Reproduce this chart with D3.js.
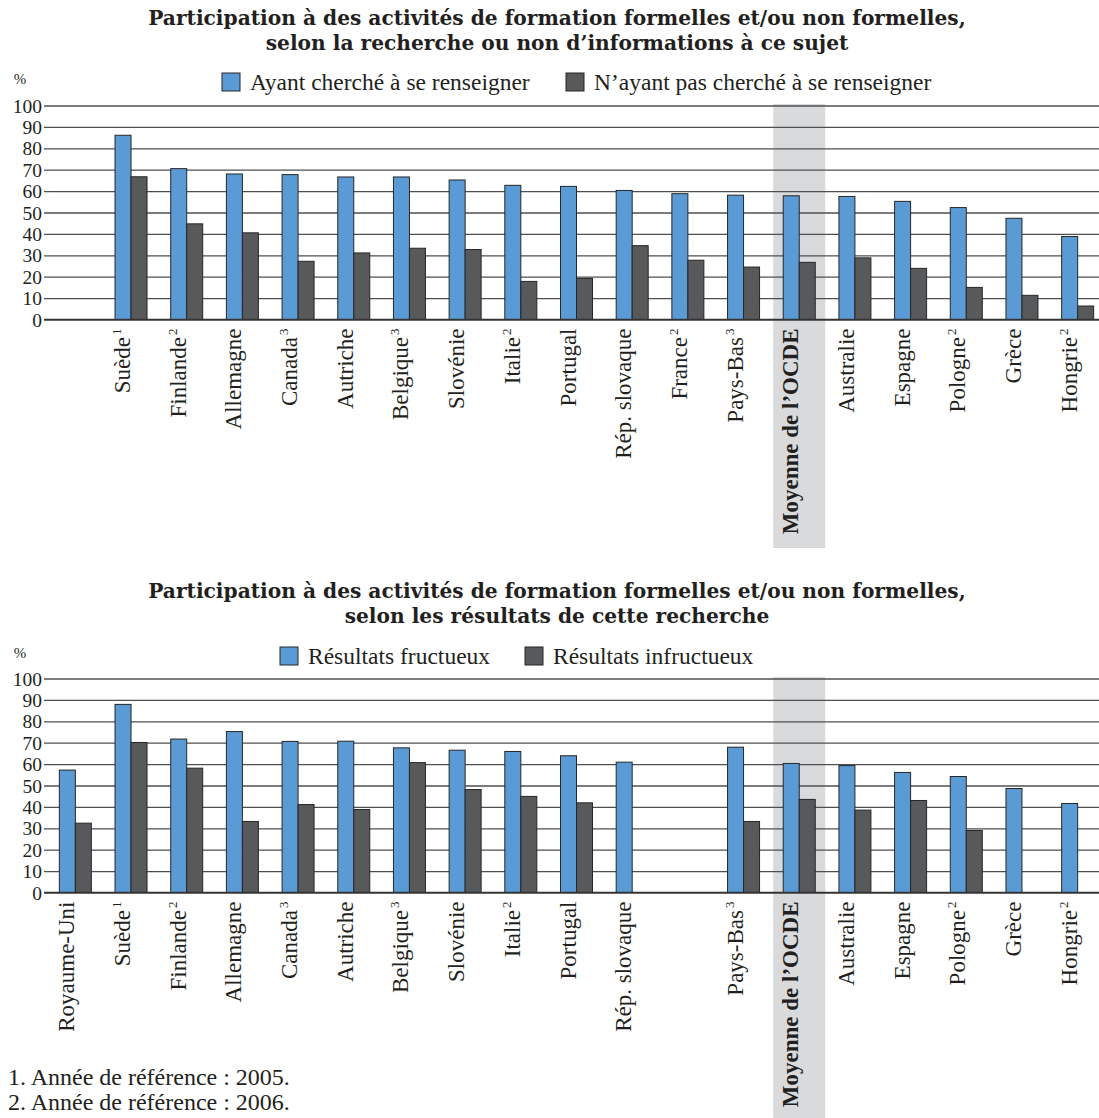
<!DOCTYPE html>
<html><head><meta charset="utf-8">
<script src="https://cdn.jsdelivr.net/npm/d3@7"></script>
<style>
html,body{margin:0;padding:0;background:#fff;}
svg{display:block;}
</style></head>
<body><svg id="chart" width="1099" height="1118"></svg>
<script>
// ---------- DATA ----------
const topCategories = ["", "Suède", "Finlande", "Allemagne", "Canada", "Autriche", "Belgique", "Slovénie", "Italie", "Portugal", "Rép. slovaque", "France", "Pays-Bas", "Moyenne de l’OCDE", "Australie", "Espagne", "Pologne", "Grèce", "Hongrie"];
const topNotes      = ["", "1", "2", "", "3", "", "3", "", "2", "", "", "2", "3", "", "", "", "2", "", "2"];
const topSearched    = [null, 86.1, 70.5, 68.0, 67.7, 66.6, 66.6, 65.2, 62.7, 62.2, 60.3, 58.8, 58.1, 57.8, 57.5, 55.2, 52.3, 47.3, 38.8];
const topNotSearched = [null, 66.7, 44.7, 40.5, 27.2, 31.1, 33.3, 32.7, 17.8, 19.2, 34.5, 27.7, 24.5, 26.7, 28.8, 23.9, 15.0, 11.3, 6.3];

const botCategories = ["Royaume-Uni", "Suède", "Finlande", "Allemagne", "Canada", "Autriche", "Belgique", "Slovénie", "Italie", "Portugal", "Rép. slovaque", "", "Pays-Bas", "Moyenne de l’OCDE", "Australie", "Espagne", "Pologne", "Grèce", "Hongrie"];
const botNotes      = ["", "1", "2", "", "3", "", "3", "", "2", "", "", "", "3", "", "", "", "2", "", "2"];
const botSuccess    = [57.2, 87.9, 71.7, 75.2, 70.6, 70.7, 67.6, 66.5, 65.9, 63.9, 60.9, null, 67.9, 60.3, 59.3, 56.1, 54.2, 48.6, 41.6];
const botFail       = [32.4, 70.1, 58.1, 33.2, 41.1, 38.8, 60.7, 48.1, 44.9, 41.9, null, null, 33.2, 43.5, 38.5, 43.0, 29.0, null, null];

const yTicks = [0, 10, 20, 30, 40, 50, 60, 70, 80, 90, 100];
const highlightIndex = 13;

const topTitle = ["Participation à des activités de formation formelles et/ou non formelles,", "selon la recherche ou non d’informations à ce sujet"];
const botTitle = ["Participation à des activités de formation formelles et/ou non formelles,", "selon les résultats de cette recherche"];
const topLegend = ["Ayant cherché à se renseigner", "N’ayant pas cherché à se renseigner"];
const botLegend = ["Résultats fructueux", "Résultats infructueux"];
const footnotes = ["1. Année de référence : 2005.", "2. Année de référence : 2006."];

// ---------- STYLE ----------
const BLUE = "#5b9bd5", DARK = "#58595b", OUTLINE = "#262626", GRID = "#4f4f4f", BAND = "#d9dadc", TEXT = "#231f20";
const FONT = "'Liberation Serif', 'Times New Roman', serif";
const TITLE_FONT = "'DejaVu Serif', 'Liberation Serif', serif";
const svg = d3.select("#chart");

function panel(cfg) {
  const g = svg.append("g").attr("font-family", FONT);
  const idx = d3.range(cfg.categories.length);
  const x = d3.scaleBand().domain(idx).range([47.5, 1105.5]).paddingInner(0).paddingOuter(0);
  const y = d3.scaleLinear().domain([0, 100]).range([cfg.y0, cfg.y100]);
  const cx = i => x(i) + x.bandwidth() / 2;
  const bw = 16;

  g.selectAll("text.title").data(cfg.title).enter().append("text")
    .attr("x", 557).attr("y", (d, i) => cfg.titleY + i * 25)
    .attr("text-anchor", "middle").attr("font-weight", "bold").attr("font-size", 20.2)
    .attr("font-family", TITLE_FONT)
    .attr("fill", TEXT).text(d => d);

  g.append("text").attr("x", 20).attr("y", cfg.legendY - 6).attr("text-anchor", "middle")
    .attr("font-size", 15).attr("fill", TEXT).text("%");

  const lg = g.append("g");
  cfg.legendX.forEach((lx, i) => {
    lg.append("rect").attr("x", lx).attr("y", cfg.legendY - 17).attr("width", 18).attr("height", 18)
      .attr("fill", i === 0 ? BLUE : DARK).attr("stroke", OUTLINE).attr("stroke-width", 1);
    lg.append("text").attr("x", lx + 28).attr("y", cfg.legendY).attr("font-size", 23.5)
      .attr("fill", TEXT).text(cfg.legend[i]);
  });

  g.append("rect").attr("x", cx(highlightIndex) - 26).attr("width", 52)
    .attr("y", cfg.bandTop).attr("height", cfg.bandBottom - cfg.bandTop).attr("fill", BAND);

  const yAxis = d3.axisLeft(y).tickValues(yTicks).tickSize(-(1099 - 44)).tickPadding(2);
  const ya = g.append("g").attr("transform", "translate(44,0)").call(yAxis);
  ya.attr("font-family", FONT);
  ya.select(".domain").remove();
  ya.selectAll(".tick line").attr("stroke", GRID).attr("stroke-width", 1.3);
  ya.selectAll(".tick text").attr("font-size", 19.5).attr("fill", TEXT).attr("dy", "0.34em");

  const s1 = idx.filter(i => cfg.s1[i] != null);
  const s2 = idx.filter(i => cfg.s2[i] != null);
  g.selectAll("rect.s1").data(s1).enter().append("rect")
    .attr("x", i => cx(i) - bw).attr("width", bw)
    .attr("y", i => y(cfg.s1[i])).attr("height", i => y(0) - y(cfg.s1[i]))
    .attr("fill", BLUE).attr("stroke", OUTLINE).attr("stroke-width", 1);
  g.selectAll("rect.s2").data(s2).enter().append("rect")
    .attr("x", i => cx(i)).attr("width", bw)
    .attr("y", i => y(cfg.s2[i])).attr("height", i => y(0) - y(cfg.s2[i]))
    .attr("fill", DARK).attr("stroke", OUTLINE).attr("stroke-width", 1);

  g.append("line").attr("x1", 44).attr("x2", 1099).attr("y1", y(0)).attr("y2", y(0))
    .attr("stroke", "#333").attr("stroke-width", 1.5);

  const lab = g.selectAll("text.cat").data(idx.filter(i => cfg.categories[i] !== "")).enter().append("text")
    .attr("transform", i => `translate(${cx(i) - 1},${y(0) + 9}) rotate(-90)`)
    .attr("text-anchor", "end").attr("font-size", 23).attr("fill", TEXT)
    .attr("font-weight", i => i === highlightIndex ? "bold" : "normal");
  lab.append("tspan").text(i => cfg.categories[i]);
  lab.append("tspan").attr("font-size", 13).attr("dx", 2).attr("dy", -9).text(i => cfg.notes[i]);
}

panel({
  categories: topCategories, notes: topNotes, s1: topSearched, s2: topNotSearched,
  title: topTitle, titleY: 25, legend: topLegend, legendX: [222, 566], legendY: 90,
  y0: 319.5, y100: 105.5, bandTop: 104, bandBottom: 548
});
panel({
  categories: botCategories, notes: botNotes, s1: botSuccess, s2: botFail,
  title: botTitle, titleY: 598, legend: botLegend, legendX: [280, 525], legendY: 664,
  y0: 892.5, y100: 678.5, bandTop: 677, bandBottom: 1118
});

svg.selectAll("text.fn").data(footnotes).enter().append("text")
  .attr("x", 8).attr("y", (d, i) => 1085 + i * 25).attr("font-size", 24).attr("fill", TEXT)
  .attr("font-family", FONT).text(d => d);
</script>
</body></html>
